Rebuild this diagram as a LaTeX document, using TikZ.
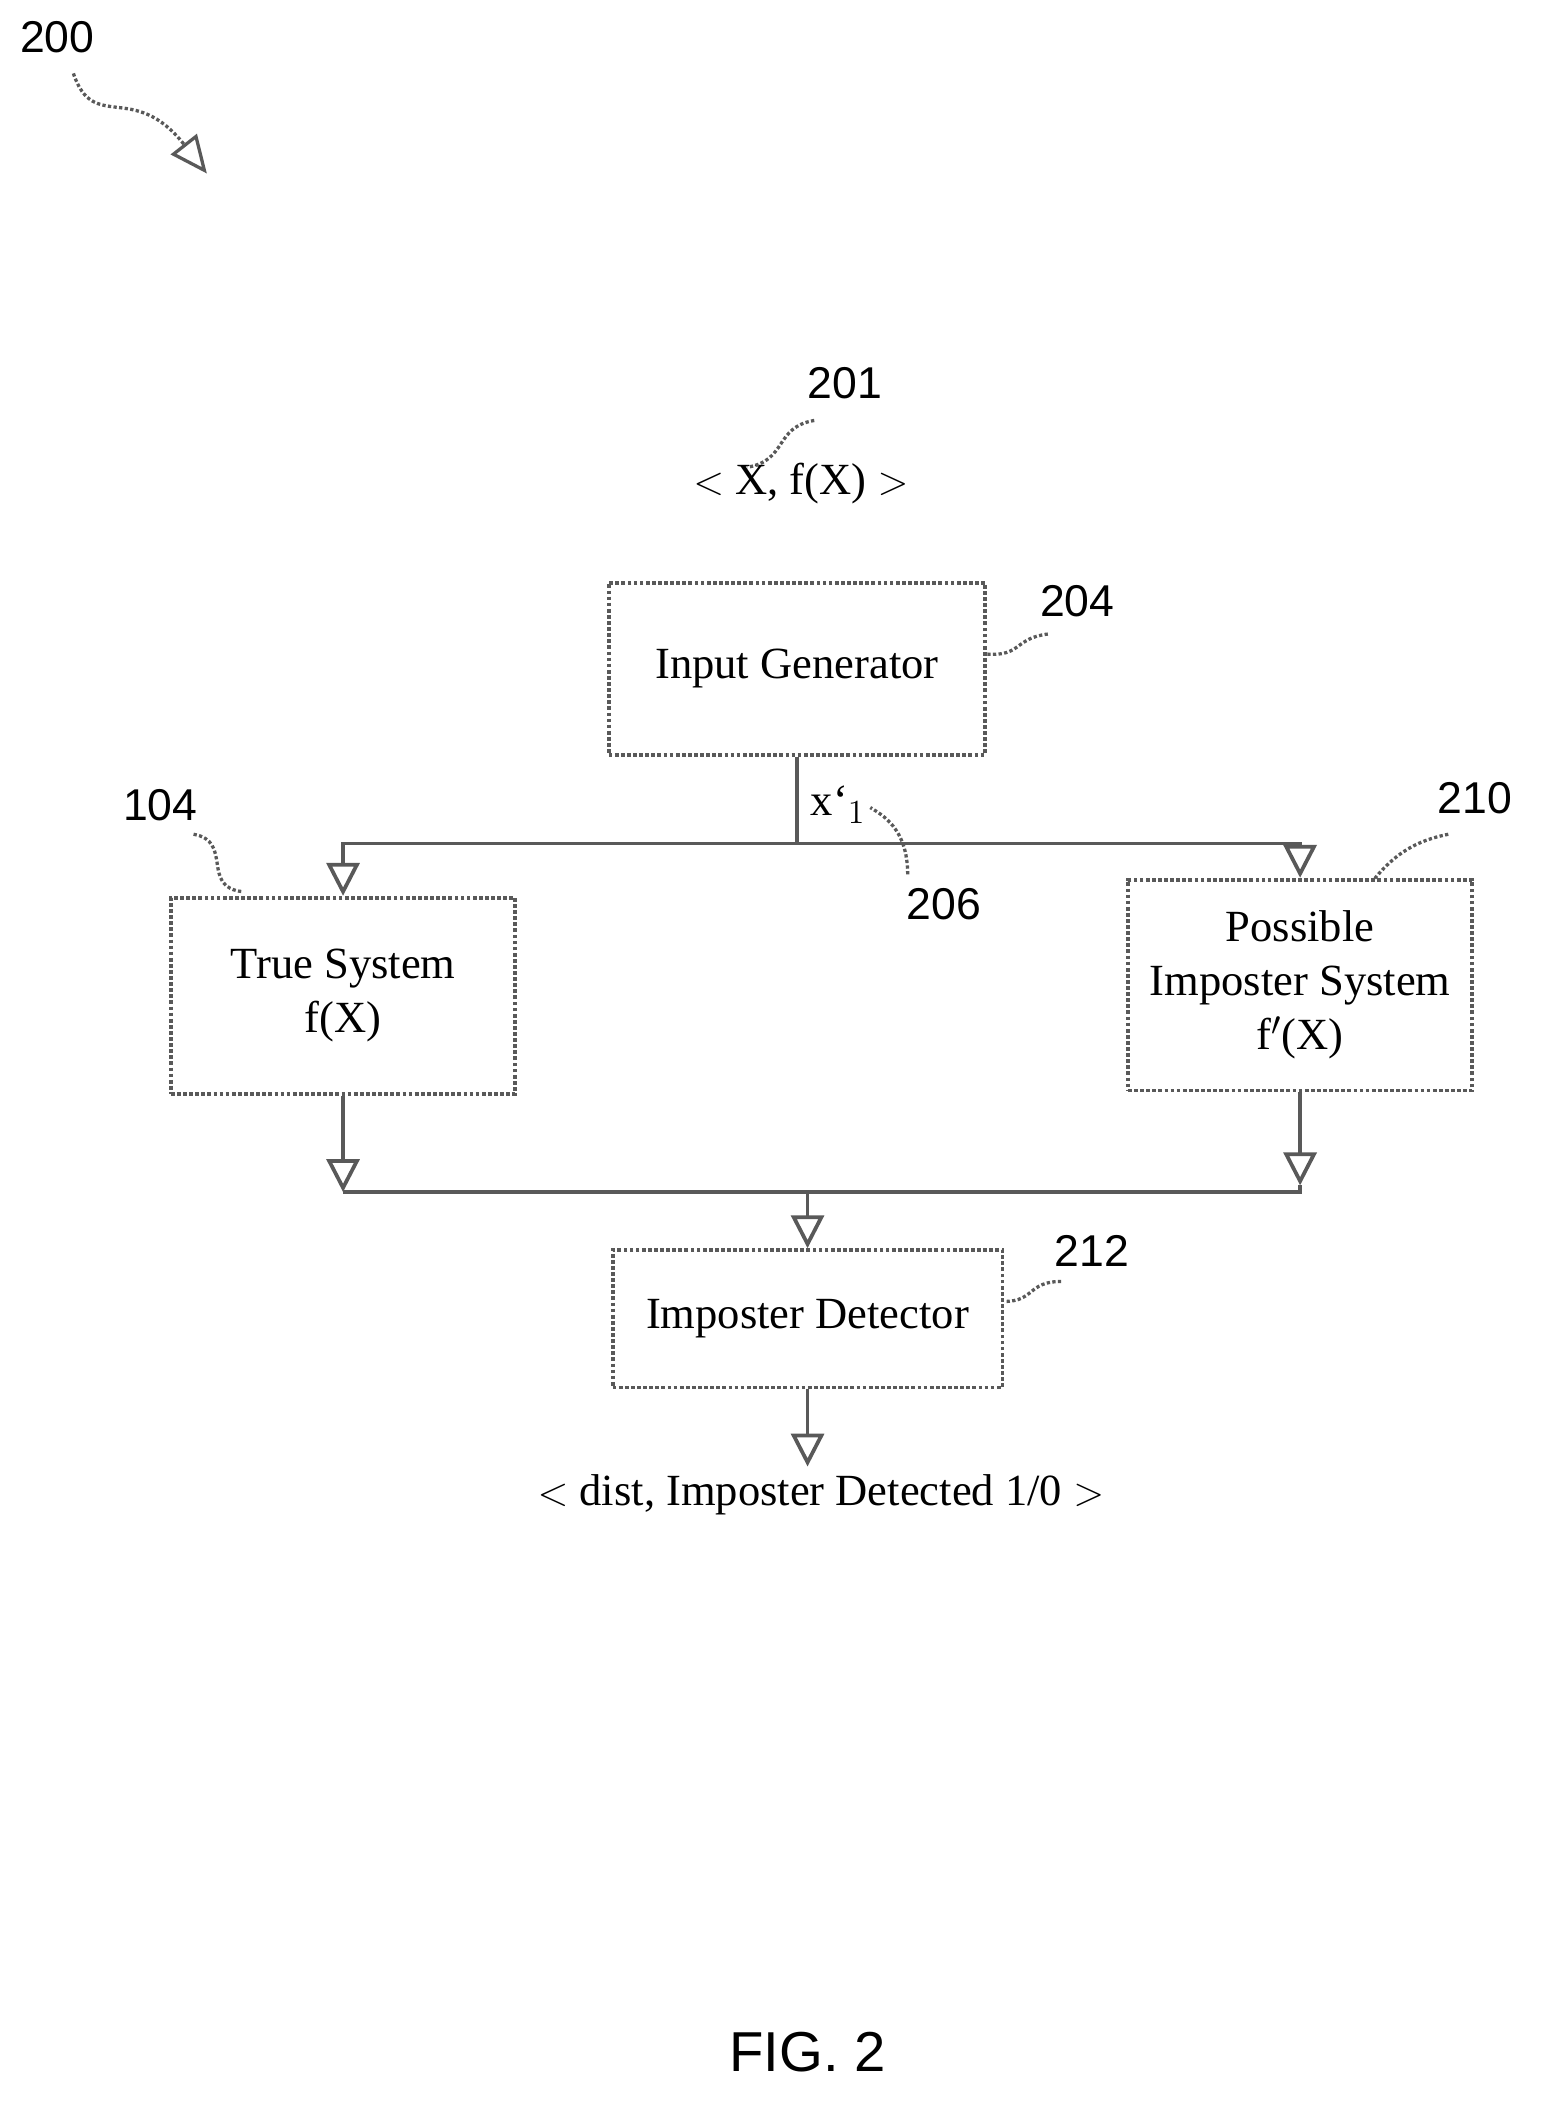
\documentclass[tikz,border=0pt]{standalone}
\usepackage{fontspec}
\setmainfont{Liberation Serif}
\setsansfont{Liberation Sans}
\usetikzlibrary{arrows.meta,positioning,calc}

\begin{document}
\begin{tikzpicture}[
    x=0.02cm, y=-0.02cm,
    box/.style={rectangle, draw=gray!70!black, densely dotted, line width=1.6pt, align=center, font=\fontsize{19}{23}\selectfont, inner sep=0pt},
    flow/.style={draw=gray!70!black, line width=1.6pt},
    arrow/.style={flow, -{Triangle[open, length=14pt, width=14pt]}},
    refnum/.style={font=\sffamily\fontsize{19}{23}\selectfont},
    lead/.style={draw=gray!70!black, densely dotted, line width=1.4pt},
]
    \useasboundingbox (0,0) rectangle (1160,1583);

    % Figure number and pointer
    \node[refnum] (n200) at (43,28) {200};
    \draw[lead, -{Triangle[open, length=16pt, width=14pt]}] (55,55) .. controls (70,100) and (100,60) .. (155,130);

    % Input signal
    \node[font=\fontsize{19}{23}\selectfont] (insig) at (600,362) {$<$ X, f(X) $>$};
    \node[refnum] (n201) at (633,287) {201};
    \draw[lead] (610,315) .. controls (580,320) and (590,345) .. (560,350);

    % Blocks
    \node[box, minimum width=282*0.02cm, minimum height=129*0.02cm] (gen) at (597,501) {Input Generator};
    \node[box, minimum width=258*0.02cm, minimum height=147*0.02cm] (truesys) at (257,746) {True System\\f(X)};
    \node[box, minimum width=258*0.02cm, minimum height=158*0.02cm] (impsys) at (974,738) {Possible\\Imposter System\\f$'$(X)};
    \node[box, minimum width=292*0.02cm, minimum height=103*0.02cm] (det) at (605,988) {Imposter Detector};
    \node[font=\fontsize{19}{23}\selectfont] (result) at (615,1120) {$<$ dist, Imposter Detected 1/0 $>$};

    % Reference numerals
    \node[refnum] (n204) at (807,450) {204};
    \draw[lead] (785,475) .. controls (760,478) and (765,492) .. (gen.east |- 0,490);
    \node[refnum] (n104) at (120,603) {104};
    \draw[lead] (145,625) .. controls (175,630) and (150,665) .. (182,668);
    \node[refnum] (n210) at (1105,598) {210};
    \draw[lead] (1085,625) .. controls (1060,630) and (1045,640) .. (1030,658);
    \node[refnum] (n206) at (707,677) {206};
    \draw[lead] (680,655) .. controls (680,620) and (660,610) .. (652,605);
    \node[refnum] (n212) at (818,937) {212};
    \draw[lead] (795,960) .. controls (770,960) and (775,975) .. (det.east |- 0,975);

    % Split from generator
    \coordinate (split) at (gen.south |- 0,632);
    \draw[flow] (gen.south) -- (split);
    \node[font=\fontsize{19}{23}\selectfont] (xlab) at (628,603) {x\textquoteleft$_1$};
    \draw[arrow] (split) -| (truesys.north);
    \draw[arrow] (split) -| (impsys.north);

    % Merge into detector
    \coordinate (tl) at (truesys.south |- 0,893);
    \coordinate (tr) at (impsys.south |- 0,888);
    \coordinate (merge) at (det.north |- 0,893);
    \draw[arrow] (truesys.south) -- (tl);
    \draw[arrow] (impsys.south) -- (tr);
    \draw[flow] (tl) -- (tr |- 0,893) -- (tr);
    \draw[arrow] (merge) -- (det.north);

    % Output
    \draw[arrow] (det.south) -- (result.north -| det.south);

    \node[font=\sffamily\fontsize{24}{28}\selectfont] (fig) at (605,1537) {FIG. 2};
\end{tikzpicture}
\end{document}
